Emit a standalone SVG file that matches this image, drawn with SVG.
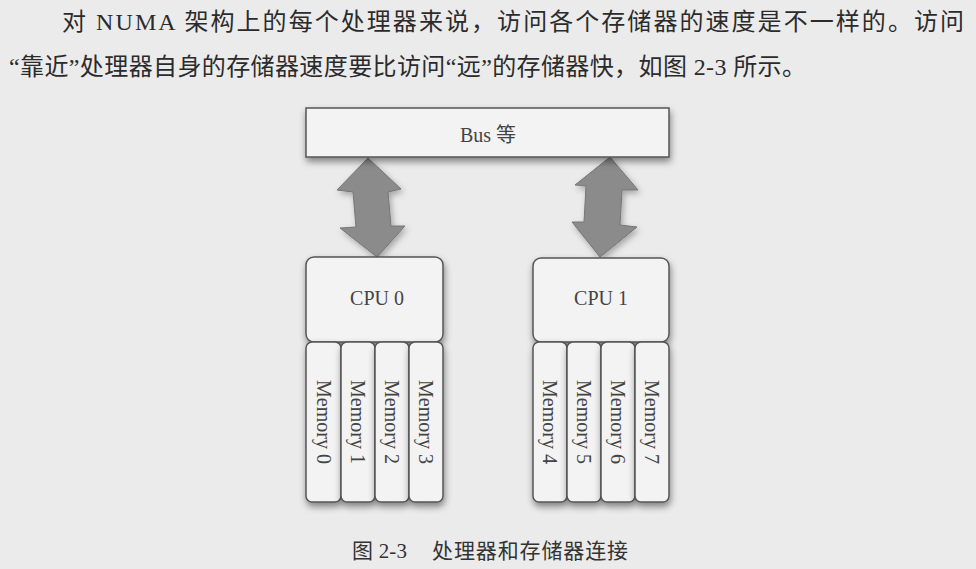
<svg xmlns="http://www.w3.org/2000/svg" width="976" height="569" viewBox="0 0 976 569">
<style>
.para{font-family:"Liberation Serif","Noto Sans CJK SC",serif;font-size:24px;fill:#2b2b2b}
.cap{font-family:"Liberation Serif","Noto Sans CJK SC",serif;font-size:21px;fill:#333}
.lbl{font-family:"Liberation Serif","Noto Sans CJK SC",serif;font-size:20px;fill:#444}
.box{fill:#f3f3f3;stroke:#555;stroke-width:1.5}
.arrow{fill:#8b8b8b;stroke:#767676;stroke-width:1}
</style>
<defs>
<filter id="sh" x="-30%" y="-30%" width="160%" height="160%">
<feDropShadow dx="1" dy="4" stdDeviation="3.5" flood-color="#000" flood-opacity="0.45"/>
</filter>
<filter id="sha" x="-40%" y="-20%" width="180%" height="140%">
<feDropShadow dx="2" dy="3" stdDeviation="3" flood-color="#000" flood-opacity="0.3"/>
</filter>
</defs>
<rect width="976" height="569" fill="#ebebeb"/>
<text class="para" x="62" y="30" textLength="902" lengthAdjust="spacing">对 NUMA 架构上的每个处理器来说，访问各个存储器的速度是不一样的。访问</text>
<text class="para" x="9" y="75" textLength="797" lengthAdjust="spacing">“靠近”处理器自身的存储器速度要比访问“远”的存储器快，如图 2-3 所示。</text>

<g id="connectors">
<polygon class="arrow" filter="url(#sha)" points="368,158 401,189 388,192 391,226 405,226 377,257 340,228 356,227 353,192 337,190"/>
<polygon class="arrow" filter="url(#sha)" points="610,157 638,190 622,190 620,225 637,227 600,257 572,222 584,222 586,186 575,185"/>
</g>

<g id="bus">
<rect class="box" x="306" y="108" width="363" height="49" filter="url(#sh)"/>
<text class="lbl" x="488" y="142" text-anchor="middle">Bus 等</text>
</g>

<g id="cpu0">
<rect class="box" x="306" y="257" width="137" height="85" rx="8" filter="url(#sh)"/>
<text class="lbl" x="377" y="305" text-anchor="middle">CPU 0</text>
</g>
<g id="mem0">
<rect class="box" x="306" y="342" width="35" height="160" rx="6" filter="url(#sh)"/>
<text class="lbl" transform="translate(323.5,422) rotate(90)" text-anchor="middle" dominant-baseline="central">Memory 0</text>
</g>
<g id="mem1">
<rect class="box" x="341" y="342" width="34" height="160" rx="6" filter="url(#sh)"/>
<text class="lbl" transform="translate(358,422) rotate(90)" text-anchor="middle" dominant-baseline="central">Memory 1</text>
</g>
<g id="mem2">
<rect class="box" x="375" y="342" width="34" height="160" rx="6" filter="url(#sh)"/>
<text class="lbl" transform="translate(392,422) rotate(90)" text-anchor="middle" dominant-baseline="central">Memory 2</text>
</g>
<g id="mem3">
<rect class="box" x="409" y="342" width="34" height="160" rx="6" filter="url(#sh)"/>
<text class="lbl" transform="translate(426,422) rotate(90)" text-anchor="middle" dominant-baseline="central">Memory 3</text>
</g>

<g id="cpu1">
<rect class="box" x="533" y="258" width="136" height="84" rx="8" filter="url(#sh)"/>
<text class="lbl" x="601" y="305" text-anchor="middle">CPU 1</text>
</g>
<g id="mem4">
<rect class="box" x="533" y="342" width="34" height="160" rx="6" filter="url(#sh)"/>
<text class="lbl" transform="translate(550,422) rotate(90)" text-anchor="middle" dominant-baseline="central">Memory 4</text>
</g>
<g id="mem5">
<rect class="box" x="567" y="342" width="34" height="160" rx="6" filter="url(#sh)"/>
<text class="lbl" transform="translate(584,422) rotate(90)" text-anchor="middle" dominant-baseline="central">Memory 5</text>
</g>
<g id="mem6">
<rect class="box" x="601" y="342" width="34" height="160" rx="6" filter="url(#sh)"/>
<text class="lbl" transform="translate(618,422) rotate(90)" text-anchor="middle" dominant-baseline="central">Memory 6</text>
</g>
<g id="mem7">
<rect class="box" x="635" y="342" width="34" height="160" rx="6" filter="url(#sh)"/>
<text class="lbl" transform="translate(652,422) rotate(90)" text-anchor="middle" dominant-baseline="central">Memory 7</text>
</g>

<text class="cap" x="352" y="558" textLength="55" lengthAdjust="spacing">图 2-3</text>
<text class="cap" x="432" y="558" textLength="196" lengthAdjust="spacing">处理器和存储器连接</text>
</svg>
